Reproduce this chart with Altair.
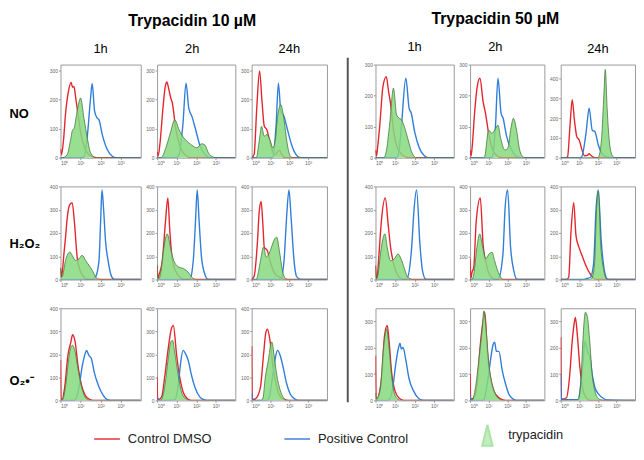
import json
import altair as alt
import pandas as pd

GROUPS = ["Trypacidin 10 µM", "Trypacidin 50 µM"]
TIMES = ["1h", "2h", "24h", "1h", "2h", "24h"]
ROWS = ["NO", "H₂O₂", "O₂•⁻"]
SERIES = ["Control DMSO", "Positive Control", "trypacidin"]
XTICK_VALUES = [0, 1, 2, 3]
XTICK_LABELS = ["10⁰", "10¹", "10²", "10³"]
Y_MAX = [[320, 320, 320, 300, 300, 470],
         [400, 400, 400, 400, 400, 400],
         [400, 400, 400, 350, 350, 350]]
T3 = [0, 100, 200, 300]
T4 = [0, 100, 200, 300, 400]
Y_TICKS = [[T3, T3, T3, T3, T3, T4],
           [T4, T4, T4, T4, T4, T4],
           [T4, T4, T4, T3, T3, T3]]

# x = log10 fluorescence (decades), y = counts
NO_DMSO = [
    ([0, 0.05, 0.15, 0.25, 0.4, 0.53, 0.6, 0.67, 0.75, 0.83, 1.0, 1.15, 1.3, 1.5, 1.8, 4],
     [30, 10, 60, 150, 230, 259, 242, 245, 210, 170, 90, 45, 20, 6, 0, 0]),
    ([0, 0.05, 0.15, 0.3, 0.42, 0.5, 0.6, 0.7, 0.78, 0.95, 1.2, 1.45, 1.7, 4],
     [20, 5, 50, 170, 245, 260, 235, 205, 188, 102, 34, 9, 0, 0]),
    ([0, 0.13, 0.27, 0.42, 0.55, 0.67, 0.8, 0.97, 1.2, 1.35, 1.47, 1.6, 1.75, 4],
     [0, 11, 170, 298, 193, 108, 97, 55, 10, 18, 26, 12, 0, 0]),
    ([0, 0.05, 0.12, 0.22, 0.38, 0.55, 0.67, 0.78, 0.92, 1.08, 1.33, 1.58, 1.8, 4],
     [25, 5, 40, 105, 229, 261, 213, 170, 89, 39, 11, 2, 0, 0]),
    ([0, 0.05, 0.12, 0.25, 0.4, 0.53, 0.7, 0.83, 1.0, 1.2, 1.45, 1.7, 4],
     [25, 5, 40, 150, 235, 256, 181, 143, 78, 28, 6, 0, 0]),
    ([0, 0.3, 0.37, 0.5, 0.62, 0.73, 0.87, 1.0, 1.12, 1.28, 1.43, 1.53, 1.62, 1.75, 1.9, 4],
     [0, 0, 5, 163, 293, 197, 105, 88, 47, 10, 12, 20, 12, 3, 0, 0]),
]
NO_POS = [
    ([0, 1.0, 1.17, 1.33, 1.5, 1.58, 1.7, 1.83, 1.92, 2.08, 2.33, 2.58, 2.8, 4],
     [0, 0, 3, 70, 205, 255, 160, 136, 130, 80, 28, 5, 0, 0]),
    ([0, 1.0, 1.12, 1.32, 1.48, 1.62, 1.78, 1.95, 2.2, 2.45, 2.7, 4],
     [0, 0, 11, 114, 256, 170, 142, 102, 40, 11, 0, 0]),
    ([0, 1.0, 1.13, 1.3, 1.42, 1.55, 1.72, 1.88, 2.13, 2.38, 2.6, 4],
     [0, 0, 3, 114, 256, 159, 142, 102, 43, 9, 0, 0]),
    ([0, 1.08, 1.2, 1.33, 1.55, 1.72, 1.83, 2.0, 2.25, 2.5, 2.7, 4],
     [0, 0, 20, 105, 256, 159, 143, 84, 30, 6, 0, 0]),
    ([0, 1.1, 1.2, 1.37, 1.5, 1.67, 1.78, 1.95, 2.2, 2.45, 2.7, 4],
     [0, 0, 3, 105, 256, 143, 127, 73, 30, 6, 0, 0]),
    ([0, 1.0, 1.12, 1.37, 1.53, 1.7, 1.83, 2.03, 2.28, 2.53, 2.7, 4],
     [0, 0, 3, 130, 250, 138, 133, 63, 13, 2, 0, 0]),
]
NO_TRY = [
    ([0, 0.1, 0.33, 0.5, 0.6, 0.67, 0.83, 1.0, 1.17, 1.33, 1.5, 1.75, 4],
     [0, 0, 10, 60, 95, 100, 160, 205, 135, 70, 17, 0, 0]),
    ([0, 0.2, 0.45, 0.7, 0.9, 1.12, 1.28, 1.45, 1.78, 2.03, 2.28, 2.45, 2.62, 2.87, 3.0, 4],
     [0, 0, 34, 90, 130, 97, 76, 62, 43, 34, 48, 43, 17, 2, 0, 0]),
    ([0, 0.25, 0.35, 0.45, 0.52, 0.67, 0.8, 0.97, 1.13, 1.27, 1.38, 1.55, 1.72, 1.88, 2.05, 2.2, 4],
     [0, 0, 34, 80, 108, 74, 80, 62, 34, 68, 142, 182, 130, 51, 6, 0, 0]),
    ([0, 0.42, 0.55, 0.72, 0.92, 1.08, 1.22, 1.33, 1.5, 1.67, 1.88, 2.08, 4],
     [0, 0, 20, 105, 224, 138, 127, 122, 95, 57, 14, 0, 0]),
    ([0, 0.7, 0.78, 1.0, 1.17, 1.33, 1.5, 1.65, 1.87, 2.03, 2.2, 2.33, 2.5, 2.67, 2.87, 3.0, 4],
     [0, 0, 3, 89, 78, 89, 105, 62, 25, 30, 95, 127, 89, 25, 2, 0, 0]),
    ([0, 1.95, 2.03, 2.2, 2.33, 2.4, 2.5, 2.62, 2.78, 2.9, 4],
     [0, 0, 3, 97, 330, 445, 247, 80, 10, 0, 0]),
]
H2O2_DMSO = [
    ([0, 0.04, 0.1, 0.17, 0.25, 0.33, 0.45, 0.58, 0.7, 0.83, 1.0, 1.2, 1.4, 4],
     [50, 10, 40, 110, 180, 260, 320, 330, 240, 96, 33, 8, 0, 0]),
    ([0, 0.04, 0.1, 0.27, 0.43, 0.55, 0.65, 0.77, 0.93, 1.18, 1.4, 4],
     [60, 5, 20, 82, 250, 350, 210, 89, 40, 9, 0, 0]),
    ([0, 0.13, 0.3, 0.4, 0.5, 0.6, 0.67, 0.83, 0.97, 1.22, 1.47, 1.72, 4],
     [0, 14, 153, 290, 335, 230, 139, 125, 82, 26, 11, 0, 0]),
    ([0, 0.04, 0.1, 0.18, 0.3, 0.5, 0.65, 0.77, 0.93, 1.1, 1.35, 1.55, 4],
     [60, 5, 20, 110, 250, 350, 235, 139, 67, 24, 3, 0, 0]),
    ([0, 0.04, 0.1, 0.2, 0.33, 0.55, 0.7, 0.87, 1.03, 1.28, 1.5, 4],
     [89, 5, 30, 53, 250, 350, 150, 67, 24, 3, 0, 0]),
    ([0, 0.3, 0.43, 0.55, 0.7, 0.82, 0.98, 1.15, 1.32, 1.48, 1.65, 1.82, 2.0, 4],
     [0, 0, 10, 200, 330, 190, 139, 103, 67, 39, 17, 3, 0, 0]),
]
H2O2_POS = [
    ([0, 1.6, 1.75, 1.92, 2.0, 2.07, 2.15, 2.25, 2.37, 2.5, 2.6, 2.75, 4],
     [0, 0, 11, 82, 250, 385, 300, 160, 82, 25, 5, 0, 0]),
    ([0, 1.55, 1.68, 1.85, 1.97, 2.05, 2.15, 2.27, 2.43, 2.6, 2.75, 4],
     [0, 0, 3, 82, 260, 385, 250, 96, 26, 1, 0, 0]),
    ([0, 1.45, 1.55, 1.72, 1.85, 1.98, 2.1, 2.25, 2.38, 2.55, 2.7, 4],
     [0, 0, 3, 82, 260, 385, 260, 82, 14, 2, 0, 0]),
    ([0, 1.45, 1.6, 1.85, 1.97, 2.1, 2.27, 2.4, 2.57, 2.7, 4],
     [0, 0, 3, 139, 300, 385, 153, 39, 1, 0, 0]),
    ([0, 1.4, 1.52, 1.77, 1.88, 2.02, 2.18, 2.35, 2.52, 2.65, 4],
     [0, 0, 3, 110, 300, 385, 139, 39, 1, 0, 0]),
    ([0, 1.2, 1.35, 1.6, 1.77, 1.9, 2.02, 2.18, 2.35, 2.52, 2.65, 4],
     [0, 0, 3, 10, 67, 300, 385, 167, 39, 1, 0, 0]),
]
H2O2_TRY = [
    ([0, 0.04, 0.08, 0.25, 0.47, 0.58, 0.75, 0.92, 1.08, 1.25, 1.42, 1.58, 1.75, 1.92, 2.05, 4],
     [50, 10, 11, 82, 118, 104, 82, 89, 104, 82, 61, 40, 11, 1, 0, 0]),
    ([0, 0.04, 0.1, 0.18, 0.35, 0.52, 0.68, 0.85, 1.1, 1.35, 1.57, 1.77, 1.93, 2.05, 4],
     [60, 5, 5, 26, 139, 196, 139, 82, 54, 47, 33, 11, 1, 0, 0]),
    ([0, 0.25, 0.3, 0.47, 0.63, 0.77, 0.88, 1.05, 1.22, 1.33, 1.47, 1.63, 1.8, 1.95, 4],
     [0, 0, 11, 82, 139, 97, 104, 139, 174, 182, 125, 40, 4, 0, 0]),
    ([0, 0.04, 0.08, 0.13, 0.3, 0.48, 0.6, 0.77, 0.97, 1.15, 1.3, 1.43, 1.6, 1.77, 1.9, 4],
     [60, 5, 5, 24, 139, 196, 139, 81, 90, 110, 90, 60, 17, 3, 0, 0]),
    ([0, 0.1, 0.2, 0.37, 0.52, 0.68, 0.85, 1.02, 1.18, 1.32, 1.48, 1.65, 1.77, 1.9, 4],
     [0, 0, 24, 139, 196, 139, 89, 110, 117, 81, 39, 10, 0, 0, 0]),
    ([0, 1.55, 1.68, 1.82, 1.93, 2.03, 2.15, 2.32, 2.48, 2.6, 4],
     [0, 0, 7, 67, 300, 380, 153, 39, 1, 0, 0]),
]
O2_DMSO = [
    ([0, 0.03, 0.08, 0.2, 0.37, 0.52, 0.6, 0.73, 0.87, 1.05, 1.23, 1.45, 1.65, 4],
     [175, 5, 5, 51, 196, 254, 285, 254, 152, 65, 22, 4, 0, 0]),
    ([0, 0.03, 0.1, 0.23, 0.4, 0.57, 0.7, 0.83, 1.0, 1.17, 1.33, 1.55, 1.75, 4],
     [100, 5, 5, 14, 109, 225, 300, 325, 196, 94, 36, 7, 0, 0]),
    ([0, 0.03, 0.1, 0.2, 0.46, 0.63, 0.75, 0.84, 0.98, 1.12, 1.3, 1.51, 1.77, 1.95, 4],
     [235, 5, 5, 7, 54, 198, 293, 309, 256, 155, 68, 17, 3, 0, 0]),
    ([0, 0.03, 0.1, 0.16, 0.34, 0.46, 0.6, 0.7, 0.82, 1.0, 1.23, 1.45, 4],
     [170, 5, 5, 16, 109, 244, 285, 220, 109, 35, 7, 0, 0]),
    ([0, 0.03, 0.1, 0.2, 0.38, 0.56, 0.7, 0.79, 0.92, 1.06, 1.28, 1.55, 1.73, 1.9, 4],
     [100, 5, 5, 10, 62, 218, 300, 335, 192, 101, 36, 10, 3, 0, 0]),
    ([0, 0.03, 0.1, 0.31, 0.49, 0.61, 0.72, 0.79, 0.9, 1.03, 1.21, 1.44, 1.6, 4],
     [240, 5, 5, 10, 101, 218, 290, 315, 244, 127, 36, 5, 0, 0]),
]
O2_POS = [
    ([0, 0.6, 0.73, 0.91, 1.09, 1.23, 1.3, 1.41, 1.54, 1.68, 1.89, 2.13, 2.34, 2.5, 4],
     [0, 0, 3, 51, 152, 203, 217, 196, 181, 123, 65, 22, 3, 0, 0]),
    ([0, 0.05, 0.15, 0.9, 1.08, 1.21, 1.33, 1.45, 1.59, 1.76, 1.93, 2.19, 2.36, 2.55, 4],
     [10, 5, 0, 2, 65, 167, 217, 203, 174, 109, 58, 14, 4, 0, 0]),
    ([0, 0.03, 0.1, 0.8, 0.9, 1.07, 1.25, 1.37, 1.51, 1.65, 1.86, 2.04, 2.3, 2.5, 4],
     [30, 5, 0, 0, 7, 80, 181, 217, 196, 152, 72, 29, 6, 0, 0]),
    ([0, 0.6, 0.7, 0.88, 1.05, 1.18, 1.25, 1.32, 1.41, 1.54, 1.71, 1.95, 2.21, 2.39, 2.55, 4],
     [0, 0, 3, 47, 146, 201, 217, 195, 201, 158, 84, 35, 7, 1, 0, 0]),
    ([0, 0.03, 0.1, 0.65, 0.74, 0.92, 1.1, 1.24, 1.32, 1.42, 1.55, 1.73, 1.91, 2.09, 2.32, 2.5, 4],
     [20, 5, 0, 0, 3, 62, 153, 212, 221, 186, 186, 114, 62, 23, 5, 0, 0]),
    ([0, 0.03, 0.1, 0.94, 1.08, 1.21, 1.3, 1.44, 1.57, 1.69, 1.84, 2.05, 2.29, 2.47, 4],
     [100, 5, 3, 3, 62, 153, 225, 186, 166, 101, 49, 23, 8, 2, 0]),
]
O2_TRY = [
    ([0, 0.1, 0.28, 0.41, 0.52, 0.6, 0.73, 0.87, 1.05, 1.23, 1.41, 1.55, 4],
     [0, 2, 80, 181, 232, 239, 210, 138, 58, 14, 1, 0, 0]),
    ([0, 0.2, 0.4, 0.57, 0.7, 0.79, 0.9, 1.08, 1.25, 1.42, 1.6, 4],
     [0, 1, 65, 181, 254, 261, 210, 109, 36, 10, 0, 0]),
    ([0, 0.5, 0.6, 0.72, 0.9, 1.02, 1.07, 1.19, 1.33, 1.51, 1.68, 1.86, 4],
     [0, 0, 10, 97, 181, 246, 254, 196, 112, 46, 13, 0, 0]),
    ([0, 0.03, 0.1, 0.25, 0.39, 0.48, 0.57, 0.7, 0.82, 0.96, 1.14, 1.3, 4],
     [28, 5, 10, 47, 183, 244, 272, 195, 96, 28, 4, 0, 0]),
    ([0, 0.1, 0.29, 0.47, 0.65, 0.74, 0.88, 1.01, 1.19, 1.42, 1.64, 1.8, 4],
     [0, 0, 49, 153, 270, 340, 257, 140, 62, 17, 3, 0, 0]),
    ([0, 0.85, 0.94, 1.08, 1.17, 1.26, 1.33, 1.44, 1.57, 1.69, 1.84, 2.02, 2.2, 2.35, 4],
     [0, 0, 3, 62, 192, 300, 335, 315, 218, 101, 36, 8, 1, 0, 0]),
]

DMSO = [NO_DMSO, H2O2_DMSO, O2_DMSO]
POS = [NO_POS, H2O2_POS, O2_POS]
TRY = [NO_TRY, H2O2_TRY, O2_TRY]

RED = "#e3262d"
BLUE = "#2f7ed8"
GREEN_FILL = "#86d97f"
GREEN_LINE = "#46783b"
FONT = "Liberation Sans"

W = [81, 79, 76, 79, 75, 75]
SEP_W = 16
H = [94, 94, 93]
ROW_LABEL_Y = [49, 58, 73]
TITLE_DX = [0, -4, 0, 0, -12, 0]

LABEL_EXPR = json.dumps(XTICK_LABELS, ensure_ascii=False) + "[datum.value]"


def panel(r, c):
    recs = []
    for s, src in zip(SERIES, (DMSO, POS, TRY)):
        xs, ys = src[r][c]
        recs += [{"x": a, "y": b, "series": s} for a, b in zip(xs, ys)]
    base = alt.Chart(pd.DataFrame(recs))
    xenc = alt.X("x:Q", scale=alt.Scale(domain=[0, 4], nice=False, zero=False),
                 axis=alt.Axis(values=XTICK_VALUES, labelExpr=LABEL_EXPR, title=None,
                               labelFontSize=5, labelColor="#666", tickSize=2,
                               tickColor="#999", domain=False, grid=False, labelPadding=1))
    yax = dict(values=Y_TICKS[r][c], labelFontSize=5, labelColor="#666", tickSize=2,
               tickColor="#999", domain=False, grid=False, labelPadding=1)
    if c == 0:
        yax.update(title=ROWS[r], titleAngle=0, titleAlign="left", titleBaseline="middle",
                   titleX=-52, titleY=ROW_LABEL_Y[r], titleFontSize=13,
                   titleFontWeight="bold", titleColor="black", titleFont=FONT)
    else:
        yax["title"] = None
    yenc = alt.Y("y:Q", scale=alt.Scale(domain=[0, Y_MAX[r][c]], nice=False),
                 axis=alt.Axis(**yax))
    red = base.transform_filter(alt.datum.series == SERIES[0]).mark_line(
        color=RED, strokeWidth=1.4, interpolate="monotone", clip=True).encode(x=xenc, y=yenc)
    blue = base.transform_filter(alt.datum.series == SERIES[1]).mark_line(
        color=BLUE, strokeWidth=1.4, interpolate="monotone", clip=True).encode(x=xenc, y=yenc)
    g = base.transform_filter(alt.datum.series == SERIES[2])
    area = g.mark_area(color=GREEN_FILL, opacity=0.85, interpolate="monotone",
                       clip=True).encode(x=xenc, y=yenc)
    outline = g.mark_line(color=GREEN_LINE, strokeWidth=0.8, interpolate="monotone",
                          clip=True).encode(x=xenc, y=yenc)
    props = dict(width=W[c], height=H[r])
    if r == 0:
        props["title"] = alt.TitleParams(
            text=GROUPS[c // 3] if c in (1, 4) else " ", subtitle=TIMES[c],
            anchor="middle", frame="group", fontSize=16, fontWeight="bold",
            color="black", font=FONT, subtitleFont=FONT, subtitleFontSize=13,
            subtitleColor="black", subtitlePadding=14, offset=9, dx=TITLE_DX[c])
    return alt.layer(red, blue, area, outline).properties(**props)


TRIANGLE = "M0,-0.8L0.4,0.8L-0.4,0.8Z"
leg = alt.Legend(title=None, orient="none", legendX=33, legendY=360, direction="horizontal",
                 columns=3, gridAlign="all",
                 symbolSize=676, symbolStrokeWidth=2, labelFontSize=13, labelFont=FONT,
                 labelColor="#222", labelOffset=7, columnPadding=62, padding=0)


def separator(r):
    if r == 0:
        rule = alt.Chart(pd.DataFrame({"a": [0]})).mark_rule(color="#555", strokeWidth=2).encode(
            x=alt.value(4.5), y=alt.value(-7), y2=alt.value(341))
        return rule.properties(width=SEP_W, height=H[r], view=alt.ViewBackground(strokeWidth=0))
    if r == 2:
        legend_layer = alt.Chart(pd.DataFrame({"series": SERIES})).transform_filter(
            "false").mark_point(filled=True).encode(
            shape=alt.Shape("series:N", scale=alt.Scale(domain=SERIES, range=["stroke", "stroke", TRIANGLE]), legend=leg),
            fill=alt.Fill("series:N", scale=alt.Scale(domain=SERIES, range=[RED, BLUE, GREEN_FILL]), legend=leg),
            stroke=alt.Stroke("series:N", scale=alt.Scale(domain=SERIES, range=[RED, BLUE, GREEN_FILL]), legend=leg),
        )
        return legend_layer.properties(width=SEP_W, height=H[r], view=alt.ViewBackground(strokeWidth=0))
    blank = alt.Chart(pd.DataFrame({"a": [0]})).mark_rule(opacity=0).encode(
        x=alt.value(0), y=alt.value(0), y2=alt.value(1))
    return blank.properties(width=SEP_W, height=H[r], view=alt.ViewBackground(strokeWidth=0))


cells = []
for r in range(3):
    for c in range(3):
        cells.append(panel(r, c))
    cells.append(separator(r))
    for c in range(3, 6):
        cells.append(panel(r, c))

chart = alt.concat(*cells, columns=7, spacing={"row": 29, "column": 16.5},
                   bounds="flush", align="each").properties(padding=0, background="white")
chart = chart.configure(font=FONT).configure_view(stroke="#9a9a9a", strokeWidth=1)
chart.save("out.html", embed_options={"renderer": "svg", "actions": False})
